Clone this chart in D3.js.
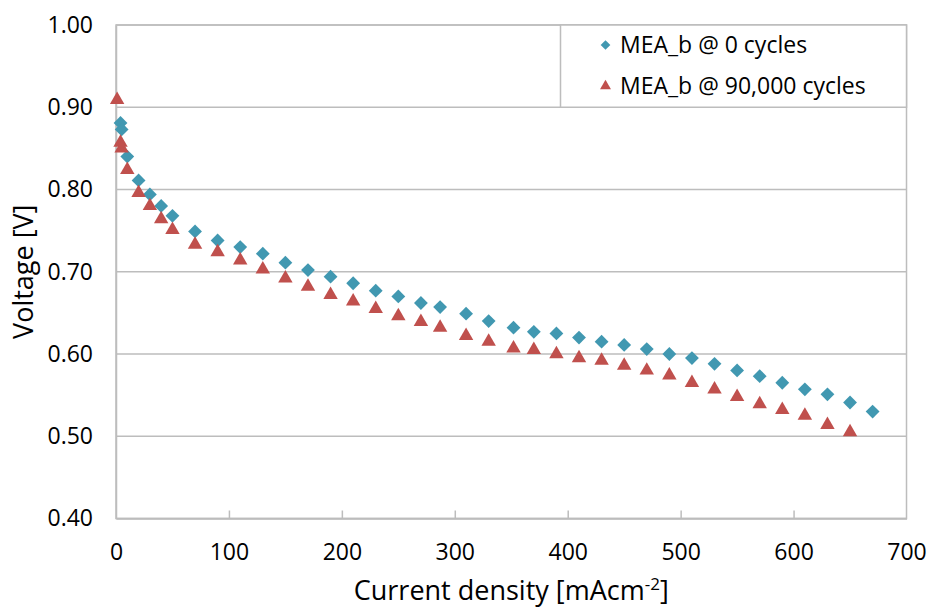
<!DOCTYPE html>
<html>
<head>
<meta charset="utf-8">
<script src="https://cdn.jsdelivr.net/npm/d3@7"></script>
<style>
  html, body { margin: 0; padding: 0; background: #fff; }
  svg { display: block; font-family: "Open Sans", sans-serif; }
</style>
</head>
<body>
<svg id="chart" width="930" height="608"></svg>
<script>
// Polarisation curves of MEA_b before and after cycling
const currentDensity0 = [4, 5, 10, 20, 30, 40, 50, 70, 90, 110, 130, 150, 170, 190, 210, 230, 250, 270, 287, 310,
  330, 352, 370, 390, 410, 430, 450, 470, 490, 510, 530, 550, 570, 590, 610, 630, 650, 670];
const voltage0 = [0.881, 0.873, 0.840, 0.811, 0.794, 0.780, 0.768, 0.749, 0.738, 0.730, 0.722, 0.711, 0.702, 0.694,
  0.686, 0.677, 0.670, 0.662, 0.657, 0.649, 0.640, 0.632, 0.627, 0.625, 0.620, 0.615, 0.611, 0.606, 0.600, 0.595,
  0.588, 0.580, 0.573, 0.565, 0.557, 0.551, 0.541, 0.530];

const currentDensity90k = [1, 4, 5, 10, 20, 30, 40, 50, 70, 90, 110, 130, 150, 170, 190, 210, 230, 250, 270, 287, 310,
  330, 352, 370, 390, 410, 430, 450, 470, 490, 510, 530, 550, 570, 590, 610, 630, 650];
const voltage90k = [0.909, 0.857, 0.850, 0.824, 0.796, 0.780, 0.764, 0.751, 0.733, 0.724, 0.714, 0.703, 0.692, 0.682,
  0.672, 0.664, 0.655, 0.646, 0.639, 0.632, 0.622, 0.615, 0.607, 0.605, 0.600, 0.595, 0.592, 0.586, 0.580, 0.574,
  0.565, 0.557, 0.548, 0.539, 0.532, 0.525, 0.514, 0.505];

const seriesNames = ["MEA_b @ 0 cycles", "MEA_b @ 90,000 cycles"];
const xTicks = [0, 100, 200, 300, 400, 500, 600, 700];
const yTicks = [0.40, 0.50, 0.60, 0.70, 0.80, 0.90, 1.00];

const COLORS = ["#4198b1", "#c0504d"];
const GRID = "#bdbdbd";

const svg = d3.select("#chart");
const plot = { left: 116, right: 906.5, top: 25, bottom: 518.5 };

const x = d3.scaleLinear().domain([0, 700]).range([plot.left, plot.right]);
const y = d3.scaleLinear().domain([0.40, 1.00]).range([plot.bottom, plot.top]);

// horizontal gridlines
svg.append("g")
  .selectAll("line")
  .data(yTicks)
  .join("line")
  .attr("x1", plot.left).attr("x2", plot.right)
  .attr("y1", d => y(d)).attr("y2", d => y(d))
  .attr("stroke", GRID).attr("stroke-width", 1.5);

// plot frame
svg.append("rect")
  .attr("x", plot.left).attr("y", plot.top)
  .attr("width", plot.right - plot.left).attr("height", plot.bottom - plot.top)
  .attr("fill", "none").attr("stroke", GRID).attr("stroke-width", 1.5);

// x axis: inward tick marks and labels
const xAxis = d3.axisBottom(x).tickValues(xTicks).tickSizeInner(-8).tickSizeOuter(0)
  .tickPadding(30).tickFormat(d3.format("d"));
const gx = svg.append("g").attr("transform", `translate(0,${plot.bottom})`).call(xAxis);
gx.select(".domain").attr("stroke", GRID).attr("stroke-width", 1.5);
gx.selectAll(".tick line").attr("stroke", GRID).attr("stroke-width", 1.5)
  .attr("display", d => (d === 0 || d === 700) ? "none" : null);
gx.selectAll(".tick text").attr("font-size", 23).attr("fill", "#000")
  .attr("font-family", "Open Sans, sans-serif").attr("dy", null).attr("y", 41.5);

// y axis labels
const yAxis = d3.axisLeft(y).tickValues(yTicks).tickSize(0).tickPadding(23).tickFormat(d3.format(".2f"));
const gy = svg.append("g").attr("transform", `translate(${plot.left},0)`).call(yAxis);
gy.select(".domain").attr("stroke", GRID).attr("stroke-width", 1.5);
gy.selectAll(".tick text").attr("font-size", 23).attr("fill", "#000")
  .attr("font-family", "Open Sans, sans-serif");

// axis titles
const xTitle = svg.append("text")
  .attr("x", (plot.left + plot.right) / 2).attr("y", 600)
  .attr("text-anchor", "middle").attr("font-size", 27).attr("fill", "#000");
xTitle.append("tspan").text("Current density [mAcm");
xTitle.append("tspan").attr("font-size", 17).attr("dy", -10).text("-2");
xTitle.append("tspan").attr("dy", 10).text("]");

svg.append("text")
  .attr("transform", `translate(33,${(plot.top + plot.bottom) / 2}) rotate(-90)`)
  .attr("text-anchor", "middle").attr("font-size", 27).attr("fill", "#000")
  .text("Voltage [V]");

// data markers
const diamond = d3.symbol().type(d3.symbolDiamond2).size(122);
const triangle = d3.symbol().type(d3.symbolTriangle).size(90);

svg.append("g")
  .selectAll("path")
  .data(d3.zip(currentDensity0, voltage0))
  .join("path")
  .attr("d", diamond)
  .attr("transform", d => `translate(${x(d[0])},${y(d[1])})`)
  .attr("fill", COLORS[0]);

svg.append("g")
  .selectAll("path")
  .data(d3.zip(currentDensity90k, voltage90k))
  .join("path")
  .attr("d", triangle)
  .attr("transform", d => `translate(${x(d[0])},${y(d[1])})`)
  .attr("fill", COLORS[1]);

// legend box anchored to the top-right corner of the plot
const legend = svg.append("g");
legend.append("rect")
  .attr("x", 560.5).attr("y", plot.top)
  .attr("width", plot.right - 560.5).attr("height", y(0.90) - plot.top)
  .attr("fill", "#fff").attr("stroke", GRID).attr("stroke-width", 1.5);

const legendRows = [
  { name: seriesNames[0], sym: d3.symbol().type(d3.symbolDiamond2).size(60), color: COLORS[0], cy: 45 },
  { name: seriesNames[1], sym: d3.symbol().type(d3.symbolTriangle).size(52), color: COLORS[1], cy: 86 }
];
legendRows.forEach(r => {
  legend.append("path").attr("d", r.sym())
    .attr("transform", `translate(605.5,${r.cy})`).attr("fill", r.color);
  legend.append("text")
    .attr("x", 620).attr("y", r.cy + 8.3)
    .attr("font-size", 23).attr("fill", "#000")
    .text(r.name);
});
</script>
</body>
</html>
